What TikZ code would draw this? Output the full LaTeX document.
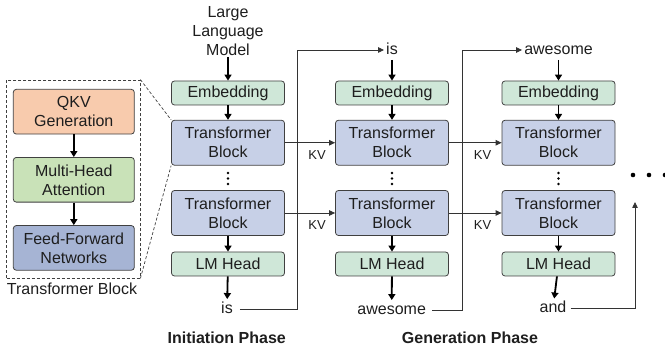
\documentclass[tikz,border=0pt]{standalone}
\usepackage{fontspec}
\setmainfont{Liberation Sans}
\usetikzlibrary{arrows.meta}
\definecolor{embc}{HTML}{CFE7D8}
\definecolor{tbc}{HTML}{C7D0E7}
\definecolor{qkvc}{HTML}{F8CBAD}
\definecolor{mhac}{HTML}{C9E2B8}
\definecolor{ffnc}{HTML}{A6B4D4}
\definecolor{txt}{HTML}{1E1E1E}
\begin{document}
\begin{tikzpicture}[x=1pt,y=-1pt,font=\fontsize{16}{19}\selectfont,
  box/.style={draw=black!75,line width=0.8pt,rounded corners=3pt,minimum width=113pt,inner sep=0pt,align=center,text=txt},
  emb/.style={box,fill=embc,minimum height=24pt},
  tbk/.style={box,fill=tbc,minimum height=45pt},
  inner/.style={box,minimum width=121pt,minimum height=44.7pt},
  lbl/.style={inner sep=2pt,text height=12pt,text depth=3.5pt,align=center,text=txt},
  kvl/.style={inner sep=1pt,font=\fontsize{13}{15}\selectfont,text=txt},
  big/.style={-{Triangle[length=6pt,width=7pt]},line width=1.8pt,draw=black},
  thinar/.style={-{Triangle[length=6pt,width=5.5pt]},line width=0.8pt,draw=black!80},
  phase/.style={font=\fontsize{16}{19}\selectfont\bfseries,text=txt}]
\useasboundingbox (0,0) rectangle (665,352);

% zoomed transformer block
\node[draw=black!75,dash pattern=on 3pt off 2pt,line width=0.8pt,minimum width=133.3pt,minimum height=198pt,inner sep=0pt] (zoom) at (73.35,179) {};
\node[inner,fill=qkvc] (qkv) at (73.8,111.7) {QKV\\Generation};
\node[inner,fill=mhac] (mha) at (73.8,179.8) {Multi-Head\\Attention};
\node[inner,fill=ffnc] (ffn) at (73.8,247.9) {Feed-Forward\\Networks};
\draw[big] (qkv) -- (mha);
\draw[big] (mha) -- (ffn);
\node[lbl] (tblabel) at (72,290) {Transformer Block};

% columns
\foreach \i/\x in {1/228,2/392,3/558.5}{
  \node[emb] (emb\i) at (\x,93) {Embedding};
  \node[tbk] (tba\i) at (\x,142.75) {Transformer\\Block};
  \node[tbk] (tbb\i) at (\x,213) {Transformer\\Block};
  \node[emb] (lm\i) at (\x,264) {LM Head};
  \draw[big] (emb\i) -- (tba\i);
  \draw[big] (tbb\i) -- (lm\i);
  \foreach \yy in {173,178.5,184}{ \fill[black] (\x,\yy) circle (1.4pt); }
}
\node[align=center,inner sep=1pt,text=txt] (in1) at (228,31) {Large\\Language\\Model};
\node[lbl] (in2) at (392,50) {is};
\node[lbl] (in3) at (558.5,50) {awesome};
\node[lbl] (out1) at (227,309) {is};
\node[lbl] (out2) at (391.7,310) {awesome};
\node[lbl] (out3) at (553,308.5) {and};
\foreach \i in {1,2,3}{
  \draw[big] (in\i) -- (emb\i);
  \draw[big] (lm\i) -- (out\i);
}

% KV arrows
\draw[thinar] (tba1.east) -- node[kvl,pos=0.64,below=6pt] {KV} (tba2.west);
\draw[thinar] (tbb1.east) -- node[kvl,pos=0.64,below=6pt] {KV} (tbb2.west);
\draw[thinar] (tba2.east) -- node[kvl,pos=0.64,below=6pt] {KV} (tba3.west);
\draw[thinar] (tbb2.east) -- node[kvl,pos=0.64,below=6pt] {KV} (tbb3.west);

% feedback
\draw[thinar] ([xshift=5pt]out1.east) -- ++(57.5,0) |- (in2.west);
\draw[thinar] ([xshift=4pt]out2.east) -- ++(30,0) |- (in3.west);
\coordinate (more) at (635,202);
\draw[thinar] ([xshift=2pt]out3.east) -| (more);
\foreach \xx in {633,649,665}{ \fill[black] (\xx,175) circle (2.3pt); }

% zoom lines
\draw[black!75,dash pattern=on 3pt off 2pt,line width=0.7pt] (zoom.north east) -- (tba1.north west);
\draw[black!75,dash pattern=on 3pt off 2pt,line width=0.7pt] (zoom.south east) -- (tba1.south west);

% phase labels
\node[phase] (ph1) at (226.7,338) {Initiation Phase};
\node[phase] (ph2) at (470,338) {Generation Phase};
\end{tikzpicture}
\end{document}
